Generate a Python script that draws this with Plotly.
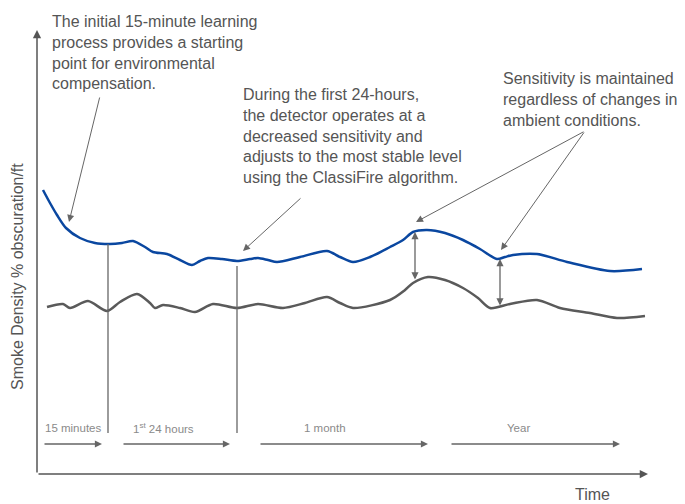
import plotly.graph_objects as go

# Schematic curves (x = time position, y = smoke density, screen-oriented)
blue_x = [43, 50, 57, 66, 80, 95, 110, 122, 133, 145, 153, 167, 180, 192, 200, 208, 222, 237, 250, 258, 268, 277, 300, 327, 340, 353, 370, 390, 403, 413, 427, 445, 463, 480, 497, 505, 513, 537, 567, 610, 642]
blue_y = [190, 203, 215, 228, 238, 243, 244, 243, 241, 247, 252, 254, 260, 265, 261, 258, 259, 261, 259, 258, 260, 262, 257, 251, 257, 262, 257, 247, 240, 232, 230, 233, 240, 249, 259, 257, 255, 254, 262, 271, 269]

gray_x = [47, 63, 70, 88, 107, 120, 137, 150, 155, 163, 180, 195, 213, 237, 258, 283, 305, 327, 340, 353, 390, 405, 413, 428, 445, 463, 478, 490, 510, 537, 560, 590, 617, 645]
gray_y = [307, 304, 308, 301, 311, 302, 294, 303, 308, 305, 308, 312, 304, 308, 304, 308, 303, 297, 303, 308, 300, 290, 283, 277, 280, 288, 298, 308, 304, 300, 308, 313, 318, 316]

# Phase periods along the time axis
phase_labels = ["15 minutes", "1<sup>st</sup> 24 hours", "1 month", "Year"]
phase_start = [43, 122, 259, 450]
phase_end = [102, 230, 428, 620]
phase_label_x = [73, 163, 325, 518]

# Phase boundaries (x, top of line)
boundary_x = [108, 237]
boundary_top = [244, 266]

# Sensitivity gap markers (x, blue level, gray level)
gap_x = [415, 500]
gap_top = [232, 259]
gap_bottom = [281, 307]

texts = [
    "The initial 15-minute learning<br>process provides a starting<br>point for environmental<br>compensation.",
    "During the first 24-hours,<br>the detector operates at a<br>decreased sensitivity and<br>adjusts to the most stable level<br>using the ClassiFire algorithm.",
    "Sensitivity is maintained<br>regardless of changes in<br>ambient conditions.",
]
text_x = [50, 241, 501]
text_y = [52, 136, 99]

# callout arrows: (tail_x, tail_y, head_x, head_y)
callouts = [(100, 96, 69, 222), (302, 197, 243, 251), (585, 131, 416, 222), (585, 131, 501, 250)]

FONT = "Liberation Sans, Arial, Helvetica, sans-serif"
BLUE = "#0a47a0"
GRAY = "#5a5a5a"
ARR = "#666666"

fig = go.Figure()
fig.add_trace(go.Scatter(x=blue_x, y=blue_y, mode="lines",
                         line=dict(color=BLUE, width=2.5, shape="spline", smoothing=0.8),
                         hoverinfo="skip", showlegend=False))
fig.add_trace(go.Scatter(x=gray_x, y=gray_y, mode="lines",
                         line=dict(color=GRAY, width=2.5, shape="spline", smoothing=0.8),
                         hoverinfo="skip", showlegend=False))

anns = []
def arrow(x0, y0, x1, y1, color=ARR, width=1.2, side="end", size=1.3):
    anns.append(dict(x=x1, y=y1, ax=x0, ay=y0, xref="x", yref="y", axref="x", ayref="y",
                     text="", showarrow=True, arrowhead=2, arrowsize=size, arrowwidth=width,
                     arrowcolor=color, arrowside=side, standoff=0, startstandoff=0))

# axes
arrow(37, 474, 37, 30, color="#555555", width=1.5, size=1.1)
arrow(37, 474, 648, 474, color="#555555", width=1.5, size=1.1)

for s, e in zip(phase_start, phase_end):
    arrow(s, 444, e, 444, width=1.3, size=1.1)
for lab, lx in zip(phase_labels, phase_label_x):
    anns.append(dict(x=lx, y=428, xref="x", yref="y", text=lab, showarrow=False,
                     font=dict(family=FONT, size=11.5, color="#8a8a8a"),
                     xanchor="center", yanchor="middle"))

for gx, gt, gb in zip(gap_x, gap_top, gap_bottom):
    arrow(gx, gb, gx, gt, width=1.3, side="end+start", size=1.1)

for (tx, ty, hx, hy) in callouts:
    arrow(tx, ty, hx, hy, width=1, size=1.4)

for t, x, y in zip(texts, text_x, text_y):
    anns.append(dict(x=x, y=y, xref="x", yref="y", text=t, showarrow=False, align="left",
                     font=dict(family=FONT, size=16, color="#555555"),
                     xanchor="left", yanchor="middle"))

anns.append(dict(x=592, y=494, xref="x", yref="y", text="Time", showarrow=False,
                 font=dict(family=FONT, size=16, color="#555555"), xanchor="center", yanchor="middle"))
anns.append(dict(x=17, y=277, xref="x", yref="y", text="Smoke Density % obscuration/ft", showarrow=False,
                 textangle=-90, font=dict(family=FONT, size=16, color="#555555"),
                 xanchor="center", yanchor="middle"))

shapes = []
for bx, bt in zip(boundary_x, boundary_top):
    shapes.append(dict(type="line", x0=bx, x1=bx, y0=bt, y1=433, xref="x", yref="y",
                       line=dict(color="#666666", width=1.3)))

# The page body has an 8px margin, so the figure is offset by 8px; the ranges
# compensate so that the drawing lines up with the window.
fig.update_layout(
    width=677, height=496, autosize=False,
    margin=dict(l=0, r=0, t=0, b=0),
    paper_bgcolor="white", plot_bgcolor="white",
    xaxis=dict(range=[8, 685], visible=False, fixedrange=True),
    yaxis=dict(range=[504, 8], visible=False, fixedrange=True),
    annotations=anns, shapes=shapes,
)

fig.write_html("out.html")
